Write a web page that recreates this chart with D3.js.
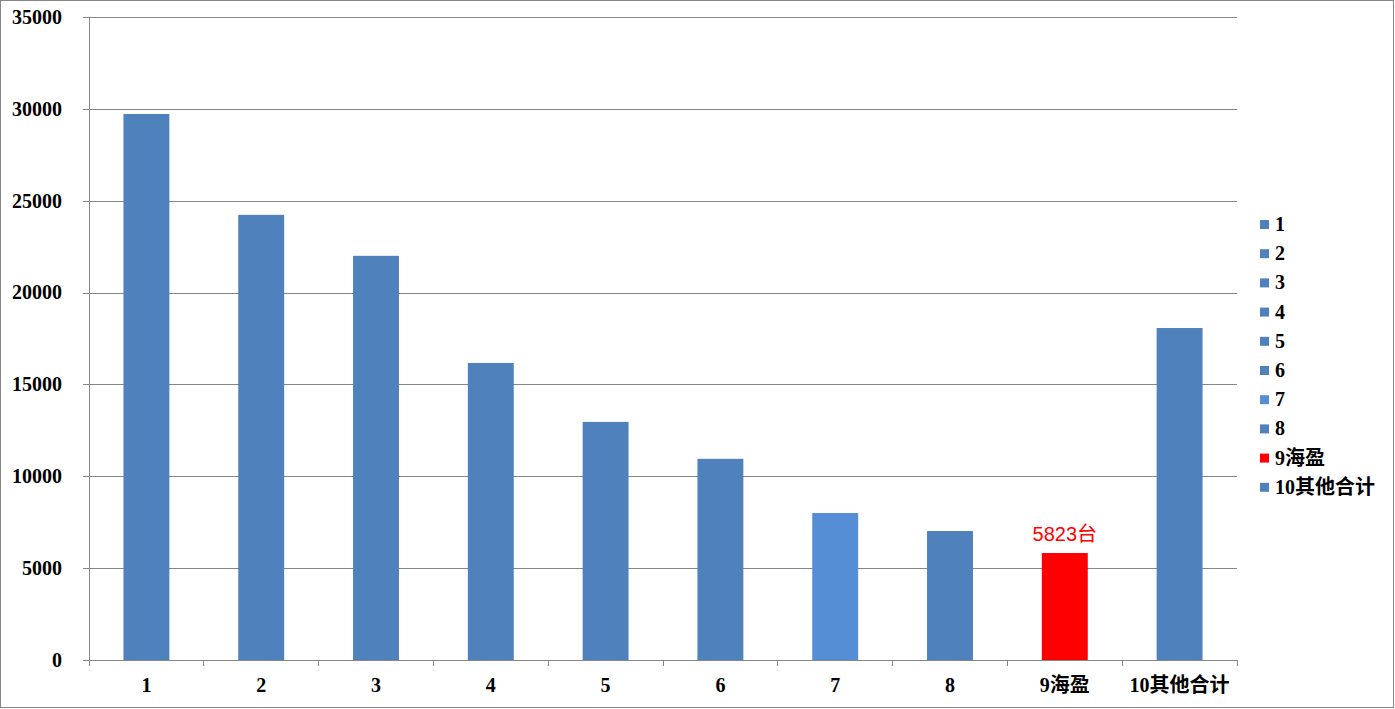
<!DOCTYPE html>
<html>
<head>
<meta charset="utf-8">
<script src="https://cdn.jsdelivr.net/npm/d3@7"></script>
<style>
  html, body { margin: 0; padding: 0; background: #fff; }
  svg { display: block; }
</style>
</head>
<body>
<svg id="chart" width="1395" height="709"></svg>
<script>
// Sales volume by maker (units)
const categories = ["1", "2", "3", "4", "5", "6", "7", "8", "9海盈", "10其他合计"];
const values = [29720, 24230, 22000, 16170, 12960, 10950, 8000, 7020, 5823, 18070];
const barColors = ["#4F81BD", "#4F81BD", "#4F81BD", "#4F81BD", "#4F81BD", "#4F81BD", "#558ED5", "#4F81BD", "#FF0000", "#4F81BD"];
const yTicks = [0, 5000, 10000, 15000, 20000, 25000, 30000, 35000];
const highlightIndex = 8;
const highlightLabel = "5823台";

const svg = d3.select("#chart");
const W = 1395, H = 709;
const plot = { left: 89, right: 1237, top: 17, bottom: 660 };
const serif = "'Liberation Serif', 'Times New Roman', 'Noto Sans CJK SC', serif";
const fontSize = 20;
const fontWeight = "bold";

// outer frame
svg.append("rect")
  .attr("x", 0.5).attr("y", 0.5)
  .attr("width", W - 2).attr("height", H - 2)
  .attr("fill", "#fff").attr("stroke", "#868686");

const x = d3.scaleBand()
  .domain(categories)
  .range([plot.left, plot.right])
  .paddingInner(0.6)
  .paddingOuter(0.3);

const y = d3.scaleLinear()
  .domain([0, 35000])
  .range([plot.bottom, plot.top]);

// gridlines + y axis
const yAxis = d3.axisLeft(y)
  .tickValues(yTicks)
  .tickSize(-(plot.right - plot.left))
  .tickPadding(27)
  .tickFormat(d3.format("d"));

const gy = svg.append("g")
  .attr("transform", `translate(${plot.left},0)`)
  .call(yAxis);
gy.select(".domain").remove();
gy.selectAll(".tick line")
  .attr("x1", -6)
  .attr("stroke", "#868686")
  .attr("shape-rendering", "crispEdges");
gy.selectAll(".tick text")
  .attr("font-family", serif)
  .attr("font-size", fontSize)
  .attr("font-weight", fontWeight)
  .attr("fill", "#000");

// vertical axis line
svg.append("line")
  .attr("x1", plot.left).attr("x2", plot.left)
  .attr("y1", plot.top).attr("y2", plot.bottom + 5)
  .attr("stroke", "#868686")
  .attr("shape-rendering", "crispEdges");

// bars
svg.append("g").selectAll("rect")
  .data(values)
  .join("rect")
  .attr("x", (d, i) => x(categories[i]))
  .attr("y", d => y(d))
  .attr("width", x.bandwidth())
  .attr("height", d => y(0) - y(d))
  .attr("fill", (d, i) => barColors[i]);

// x axis with ticks on category boundaries
const boundaries = d3.range(categories.length + 1).map(i => plot.left + i * (plot.right - plot.left) / categories.length);
const gx = svg.append("g");
gx.append("line")
  .attr("x1", plot.left).attr("x2", plot.right)
  .attr("y1", plot.bottom).attr("y2", plot.bottom)
  .attr("stroke", "#868686")
  .attr("shape-rendering", "crispEdges");
gx.selectAll("line.tk")
  .data(boundaries)
  .join("line")
  .attr("class", "tk")
  .attr("x1", d => d).attr("x2", d => d)
  .attr("y1", plot.bottom).attr("y2", plot.bottom + 6)
  .attr("stroke", "#868686")
  .attr("shape-rendering", "crispEdges");
gx.selectAll("text")
  .data(categories)
  .join("text")
  .attr("x", d => x(d) + x.bandwidth() / 2)
  .attr("y", 692)
  .attr("text-anchor", "middle")
  .attr("font-family", serif)
  .attr("font-size", fontSize)
  .attr("font-weight", fontWeight)
  .attr("fill", "#000")
  .text(d => d);

// value label on the highlighted bar
svg.append("text")
  .attr("x", x(categories[highlightIndex]) + x.bandwidth() / 2)
  .attr("y", y(values[highlightIndex]) - 12)
  .attr("text-anchor", "middle")
  .attr("font-family", "'Liberation Sans', Arial, 'Noto Sans CJK SC', sans-serif")
  .attr("font-size", 20)
  .attr("fill", "#FF0000")
  .text(highlightLabel);

// legend
const legend = svg.append("g").attr("transform", "translate(1260,224)");
const rows = legend.selectAll("g")
  .data(categories)
  .join("g")
  .attr("transform", (d, i) => `translate(0,${i * 29.2})`);
rows.append("rect")
  .attr("x", 0).attr("y", -4)
  .attr("width", 9).attr("height", 9)
  .attr("fill", (d, i) => barColors[i]);
rows.append("text")
  .attr("x", 15)
  .attr("y", 7)
  .attr("font-family", serif)
  .attr("font-size", fontSize)
  .attr("font-weight", fontWeight)
  .attr("fill", "#000")
  .text(d => d);
</script>
</body>
</html>
